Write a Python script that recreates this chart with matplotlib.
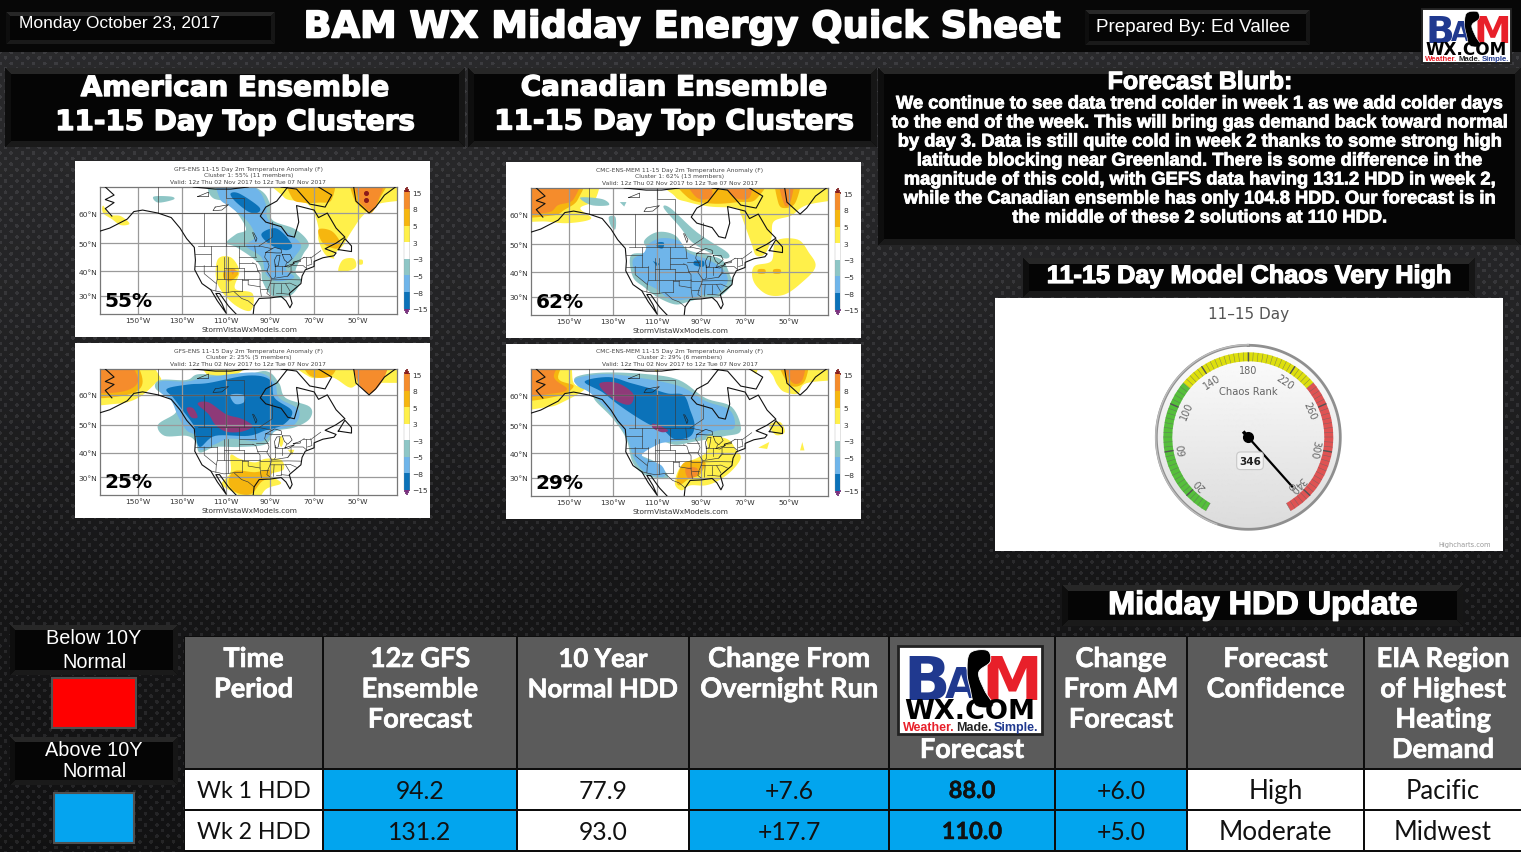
import numpy as np
import matplotlib
matplotlib.use("Agg")
import matplotlib.pyplot as plt
import matplotlib.patheffects as pe
from matplotlib.patches import Rectangle, Polygon, FancyBboxPatch
from matplotlib.colors import ListedColormap, BoundaryNorm
from matplotlib.cm import ScalarMappable

W, H = 1521, 853

# ---------- text / table data ----------
date_text = "Monday October 23, 2017"
main_title = "BAM WX Midday Energy Quick Sheet"
prepared = "Prepared By: Ed Vallee"
am_head = ["American Ensemble", "11-15 Day Top Clusters"]
ca_head = ["Canadian Ensemble", "11-15 Day Top Clusters"]
blurb_title = "Forecast Blurb:"
blurb_lines = [
    "We continue to see data trend colder in week 1 as we add colder days",
    "to the end of the week. This will bring gas demand back toward normal",
    "by day 3. Data is still quite cold in week 2 thanks to some strong high",
    "latitude blocking near Greenland. There is some difference in the",
    "magnitude of this cold, with GEFS data having 131.2 HDD in week 2,",
    "while the Canadian ensemble has only 104.8 HDD. Our forecast is in",
    "the middle of these 2 solutions at 110 HDD.",
]
chaos_head = "11-15 Day Model Chaos Very High"
hdd_head = "Midday HDD Update"
legend_below = ["Below 10Y", "Normal"]
legend_above = ["Above 10Y", "Normal"]
table_headers = [
    ["Time", "Period"],
    ["12z GFS", "Ensemble", "Forecast"],
    ["10 Year", "Normal HDD"],
    ["Change From", "Overnight Run"],
    ["", "", "", "Forecast"],
    ["Change", "From AM", "Forecast"],
    ["Forecast", "Confidence"],
    ["EIA Region", "of Highest", "Heating", "Demand"],
]
row_wk1 = ["Wk 1 HDD", "94.2", "77.9", "+7.6", "88.0", "+6.0", "High", "Pacific"]
row_wk2 = ["Wk 2 HDD", "131.2", "93.0", "+17.7", "110.0", "+5.0", "Moderate", "Midwest"]
blue_columns = [1, 3, 4, 5]
bold_columns = [4]

# ---------- gauge data ----------
gauge_title = "11\u201315 Day"
gauge_label = "Chaos Rank"
gauge_value = 346
gauge_ticks = [20, 60, 100, 140, 180, 220, 260, 300, 340]
gauge_bands = [(0, 120, "#55BF3B"), (120, 240, "#DDDF0D"), (240, 360, "#DF5353")]

# ---------- map data (lon, lat) ----------
levels = [-15, -8, -5, -3, 3, 5, 8, 15]
map_colors = ["#0b72b9", "#6fb5ea", "#8ec6c6", "#ffffff", "#fff04a", "#f6b60f", "#f58c2c"]
col = {-4: "#8ec6c6", -6: "#6fb5ea", -10: "#0b72b9", -20: "#8e3a78",
       4: "#fff04a", 6: "#f6b60f", 10: "#f58c2c", 20: "#8b1a1a"}

map1 = [
 (4, [(-166,62.5),(-163,59.5),(-158,59),(-154,56.5),(-158,56),(-162,58),(-166,60)]),
 (4, [(-87,68.7),(-33,68.7),(-33,65.5),(-41,63),(-48,59),(-52,55),(-55,51.5),(-57,49),(-61,46),(-61,44.5),(-65,46),(-68,51),(-68,55),(-70,60),(-73,63),(-78,64),(-84,65.5)]),
 (6, [(-82,68.7),(-62,68.7),(-62,64.5),(-68,63.5),(-75,63.5),(-80,65)]),
 (6, [(-68,54.5),(-62,54),(-58,50),(-60,48),(-66,50)]),
 (6, [(-53,68.7),(-36,68.7),(-40,65),(-44,60),(-48,61.5),(-52,65)]),
 (10, [(-51,68.7),(-38,68.7),(-41,64),(-44,60.5),(-47,62),(-50,65)]),
 (4, [(-57,44),(-52,44.5),(-51,41.5),(-55,40),(-59,40)]),
 (4, [(-50,44),(-48,44),(-48,42.5),(-50,42.5)]),
 (4, [(-114,44),(-108,45),(-104,40),(-106,33),(-98,31),(-99,24),(-107,27),(-114,35)]),
 (6, [(-111,40),(-107,41),(-104.5,39),(-108,36),(-111,37)]),
 (10, [(-108,40.5),(-106,40.5),(-107,38.5)]),
 (-4, [(-118,68.7),(-96,68.3),(-90,63),(-89,57.7),(-78.5,54.6),(-72.5,50),(-75,46),(-78.5,40),(-76,36),(-81,30),(-89,30),(-93.5,36),(-95,42.5),(-105,48.4),(-110,50),(-105.5,53),(-101,55),(-108.5,63),(-116,65),(-118.5,68.5)]),
 (-4, [(-143,65.5),(-135,65.5),(-134,64.5),(-141,63.5)]),
 (-6, [(-114,68.7),(-97,68.5),(-92,63),(-91,58),(-83,54),(-76,49.5),(-79,45),(-83,41),(-79,37.5),(-87,36),(-92,39),(-94,45),(-101,49),(-97,52),(-100,57),(-108,62),(-113,65)]),
 (-10, [(-108,66.5),(-104,66.5),(-95,62),(-96,60),(-100,60.5),(-106,64)]),
 (-10, [(-94,53),(-88,55),(-83,52.5),(-80,49),(-83,47.5),(-90,49.5)]),
]
map1_spots = [(-46.5, 66.8), (-46.5, 64.3)]

map2 = [
 (4, [(-167.4,68.7),(-140,68.7),(-138,65),(-145,62),(-140,58.5),(-150,57),(-160,57.5),(-167.4,59)]),
 (6, [(-167.4,68.7),(-145,68.7),(-146,65),(-152,61.5),(-158,59.5),(-167.4,60)]),
 (10, [(-167.4,68.7),(-147,68.7),(-148,65),(-155,63),(-160,60.5),(-167.4,61)]),
 (4, [(-104,68.7),(-33,68.7),(-33,66),(-42,63),(-49,59.5),(-57,57.5),(-58,52),(-61,46.5),(-65,46),(-67,50),(-70,56),(-72,60),(-74,62),(-86,62.5),(-96,64),(-102,66)]),
 (6, [(-100,68.7),(-62,68.7),(-65,65),(-73,64),(-85,63.5),(-96,65.5)]),
 (10, [(-98,68.7),(-88,68.7),(-85,66),(-92,65.5)]),
 (10, [(-80,68.7),(-68,68.7),(-68,65.5),(-76,66)]),
 (6, [(-56,68.7),(-45,68.7),(-47,64),(-52,62),(-55,64)]),
 (10, [(-55,68.7),(-48,68.7),(-49,65),(-52,63)]),
 (4, [(-66,42),(-58,44),(-56,51),(-46,51.5),(-41,47),(-38,42),(-44,36),(-52,31),(-60,31),(-66,36)]),
 (6, [(-64,41),(-61,41),(-61,39.5),(-64,39.5)]),
 (6, [(-57,41),(-54,41),(-54,39.5),(-57,39.5)]),
 (-4, [(-122,46),(-114,47),(-116,51),(-110,54),(-102,53),(-96,48),(-86,46),(-80,44),(-77,39),(-76,35),(-82,30),(-88,30),(-96,28),(-102,27),(-110,30),(-116,34),(-121,38)]),
 (-4, [(-107,62),(-104,62),(-92,54),(-78,47),(-80,45),(-93,50),(-100,56)]),
 (-4, [(-145,65.5),(-135,65),(-132,63),(-140,63)]),
 (-4, [(-127,64),(-124,64),(-125,62.5)]),
 (-4, [(-132,59),(-129,59),(-129,55),(-131,56)]),
 (-6, [(-121,44.5),(-116,47),(-114,50),(-108,52),(-100,51),(-96,47),(-87,44.5),(-80,41),(-78,36),(-83,31),(-88,31),(-97,29),(-104,29),(-110,33),(-116,36),(-120,40)]),
 (-10, [(-110,50.5),(-107,50.5),(-107.5,48.5),(-110,49)]),
 (-10, [(-93,44),(-89,44),(-89,42),(-93,42.5)]),
 (-10, [(-112,44),(-109,43),(-110,42)]),
]
map2_spots = []

map3 = [
 (4, [(-167.4,68.7),(-150,68.7),(-140,66),(-142,64),(-150,59),(-160,57),(-167.4,58)]),
 (6, [(-167.4,68.7),(-155,68.7),(-148,64.5),(-155,60),(-167.4,60)]),
 (10, [(-167.4,68.7),(-158,68.7),(-150,65),(-158,61),(-167.4,62)]),
 (4, [(-120,68.7),(-100,68.7),(-105,67),(-118,66.5)]),
 (4, [(-78,68.7),(-33,68.7),(-33,65),(-42,64),(-50,63.5),(-54,62.5),(-62,66),(-72,66)]),
 (6, [(-75,68.7),(-60,68.7),(-62,66.5),(-72,66.5)]),
 (10, [(-52,68.7),(-37,68.7),(-38,66),(-44,60.5),(-48,62),(-51,66)]),
 (-4, [(-140,65),(-128,65),(-122,67),(-105,66),(-92,68),(-86,64),(-83,59),(-72,56),(-72,52),(-79,49),(-88,47.5),(-92,43),(-104,42),(-115,42),(-122,40),(-124,44),(-128,46),(-138,46),(-141,50),(-133,54),(-134,58),(-142,62)]),
 (-6, [(-140,64.5),(-128,64.5),(-118,66),(-96,67.5),(-88,64),(-86,59),(-77,55),(-79,50),(-88,47.8),(-94,44),(-108,45),(-115,43),(-122,41),(-124,46),(-128,48),(-132,53),(-135,58),(-140,61)]),
 (-10, [(-137,62),(-127,63.5),(-118,64),(-100,66.5),(-90,65),(-88,59),(-80,54.5),(-84,50),(-92,48),(-100,46),(-115,46),(-122,42),(-124,47),(-125,50),(-130,55),(-134,59)]),
 (-6, [(-108,60),(-102,60),(-102,57.5),(-106,57)]),
 (-20, [(-123,57),(-118,57.5),(-110,53.5),(-103,52),(-98,49.5),(-103,47.5),(-110,47.5),(-115,50),(-118,53.5)]),
 (-20, [(-128,55.5),(-125,55.5),(-123,52.5),(-126,52.5)]),
 (4, [(-108,39),(-104,37.5),(-97,36),(-92,37.5),(-85,37),(-84,33),(-90,31),(-85,27.5),(-92,25),(-98,22.7),(-105,23),(-112,27),(-108,32)]),
 (6, [(-106,32.5),(-97,32),(-90,33),(-90,30),(-94,28),(-99,23),(-106,24),(-109,28)]),
 (4, [(-85,46),(-84,44),(-85,42),(-86,44)]),
 (4, [(-82,41),(-79,41),(-80,39)]),
]
map3_spots = []

map4 = [
 (4, [(-167.4,68.7),(-152,68.7),(-148,64),(-143,62),(-152,58),(-160,56),(-167.4,56.5)]),
 (6, [(-167.4,68.7),(-154,68.7),(-155,65.5),(-148,63),(-156,59.5),(-167.4,59)]),
 (10, [(-167.4,68.7),(-155,68.7),(-157,66),(-151,62),(-158,60.5),(-167.4,60)]),
 (4, [(-118,68.7),(-105,68.7),(-110,67.5)]),
 (4, [(-75,68.7),(-62,68.7),(-65,67)]),
 (4, [(-60,68.7),(-33,68.7),(-33,66),(-42,64),(-46,60.5),(-52,61),(-55,63),(-57,66)]),
 (6, [(-55,68.7),(-42,68.7),(-43,64.5),(-50,63.5)]),
 (10, [(-53,68.7),(-43,68.7),(-44,65),(-49,64.5)]),
 (4, [(-59,50),(-54,51),(-52,47.5),(-56,46.5)]),
 (4, [(-64,42),(-59,44),(-60,41.5)]),
 (4, [(-44,44),(-43,41),(-45,41)]),
 (-4, [(-147,66),(-135,67.5),(-115,67),(-100,65),(-88,59),(-76,56),(-72,48),(-80,46),(-94,44),(-102,43),(-112,45),(-118,40),(-110,36),(-105,30),(-115,31),(-121,36),(-124,45),(-130,52),(-138,58),(-140,61),(-146,63)]),
 (-6, [(-147,65.5),(-135,67),(-120,66),(-100,63),(-88,58),(-77,55),(-75,49),(-83,48),(-94,45),(-105,44),(-110,43),(-117,39),(-108,35),(-107,30.5),(-115,32),(-120,37),(-123.5,45),(-128,51),(-135,57),(-141,61),(-146,63)]),
 (-10, [(-143,64.5),(-132,66),(-122,64),(-112,62),(-105,60.5),(-98,60),(-95,55),(-93,50),(-95,46),(-102,45),(-107,48),(-113,50),(-120,53),(-128,57),(-135,61)]),
 (-20, [(-136,64),(-128,64),(-121,60.5),(-122,57),(-127,57.5),(-134,61)]),
 (-20, [(-112,50.5),(-108,49.5),(-105,48),(-108,47.5),(-112,49)]),
 (4, [(-87,46),(-78,45),(-74,41),(-72,38),(-76,33),(-82,29),(-88,27),(-95,27),(-99,25),(-102,28),(-99,35),(-92,38),(-88,40),(-87,42)]),
 (6, [(-98,36),(-92,37),(-88,36),(-91,31),(-95,30),(-100,27),(-101,30)]),
 (10, [(-97,34),(-92,34),(-92,31),(-96,30)]),
]
map4_spots = []

coast_lines = [
 [(-167.4,54),(-163,55),(-155,58),(-152,60.5),(-148,61),(-141,60),(-135,58.5),(-131,55),(-128,51.5),(-124.5,48.5),(-124,44),(-124.3,40.5),(-121,35),(-117,32.5),(-114,28),(-110,23),(-112,27),(-114.7,31),(-113,31),(-109,26),(-105.5,22.7)],
 [(-97.7,22.7),(-97.3,26),(-95,29),(-90,29.2),(-85,29.8),(-82.8,28),(-81,25.2),(-80,27),(-81.3,31),(-76,35),(-75.5,38),(-74,40.5),(-70,41.7),(-70,43.5),(-66,44.8),(-61,45.5),(-60,46.5),(-65,48),(-60,50),(-56,52),(-60,55),(-64,60),(-68,58.5),(-70,61),(-78,62.5),(-77,57),(-79,52),(-82,52.5),(-85,55.5),(-92,57),(-94.5,59),(-92,62),(-87,64),(-82,68.7)],
 [(-165,68.7),(-161,66),(-165,64.5),(-161,63.5),(-165,61.5),(-162,59)],
 [(-52,68.7),(-51,64),(-45,60),(-42,62),(-38,66),(-33,68.7)],
 [(-59,47.7),(-53,47),(-53,49),(-56,51.5),(-59,47.7)],
 [(-85,68.7),(-78,68),(-72,63),(-65,62),(-62,66),(-68,68.7)],
 [(-125,68.7),(-115,68),(-108,68),(-100,68.7)],
]
lake_lines = [
 [(-92,46.7),(-88,48.5),(-85,47.8),(-84.8,46.5),(-87,46.5),(-92,46.7)],
 [(-87.7,41.7),(-86.3,42),(-85.5,45.7),(-87,45.6),(-88,44),(-87.7,41.7)],
 [(-84.5,46),(-81,46),(-80,44.5),(-82,43),(-83.5,44),(-84.5,46)],
 [(-83.3,41.7),(-79,42.8),(-79.5,42.5),(-81.5,41.5),(-83.3,41.7)],
 [(-79.5,43.2),(-76.3,44),(-76.3,43.4),(-79.5,43.2)],
 [(-98,53.5),(-96.5,50.5),(-96,51.5),(-97.5,53.5)],
 [(-115,62),(-109,62.8),(-112,61),(-116,60.8),(-115,62)],
 [(-123,65.5),(-118,67),(-118,65.5),(-123,65.5)],
]
border_lines = [
 [(-141,60),(-141,68.7)],[(-123,49),(-95,49)],[(-120,60),(-120,49)],[(-110,60),(-110,49)],
 [(-102,60),(-102,49)],[(-95,49),(-89,52),(-89,57)],[(-141,60),(-94.5,60)],[(-102,60),(-102,65),(-110,65),(-110,68.7)],
 [(-124,46),(-117,46)],[(-124,42),(-114,42)],[(-120,42),(-120,39),(-114.5,35)],[(-117,49),(-117,42)],
 [(-114,42),(-114,37),(-114.5,35),(-114.7,32)],[(-111,45),(-111,37)],[(-114,37),(-94.6,37)],[(-109,45),(-109,31.5)],
 [(-104,49),(-104,41)],[(-104,45),(-96.5,45)],[(-104,43),(-98,43)],[(-111,41),(-102,41)],[(-102,41),(-102,37)],
 [(-103,37),(-103,32)],[(-117,32.5),(-114.7,32),(-111,31.3),(-109,31.5),(-106.5,31.8),(-103,29),(-100,28),(-97.3,26)],[(-103,32),(-106.5,32)],
 [(-100,36.5),(-100,34.5),(-94.5,33.7)],[(-103,36.5),(-100,36.5)],[(-94.6,37),(-94.6,33.5),(-94,29.8)],
 [(-98,43),(-96.5,42.5),(-95.5,40),(-94.6,39),(-94.6,37)],[(-102,40),(-95.5,40)],[(-96.5,45),(-97,49)],
 [(-96.5,43.5),(-91.2,43.5)],[(-95.8,40.6),(-91.5,40.6)],
 [(-92,46.7),(-92.5,45),(-91.2,43.5),(-90.5,42),(-91.5,40),(-90,38),(-89.2,37),(-90,35),(-91,33),(-91.5,31),(-90,30)],
 [(-94,33),(-91,33)],[(-94.5,36.5),(-90,36.5)],[(-90,35),(-84,35),(-81,35.2),(-78,34)],[(-88.2,35),(-88.5,30.3)],
 [(-85,35),(-85,31),(-87.5,31)],[(-85,31),(-81.5,30.7)],[(-83,35),(-81,32)],[(-87.5,42.5),(-87.5,38),(-88,37.5)],
 [(-84.8,41.8),(-84.8,39)],[(-87.5,41.7),(-83.3,41.7)],[(-80.5,42),(-80.5,40),(-82,38)],[(-89.2,37),(-82,38),(-80,40)],
 [(-89,36.5),(-82,36.6),(-76,36.5)],[(-80.5,39.7),(-75.5,39.7)],[(-79.8,42),(-75,42),(-73.5,41)],[(-73.5,45),(-73.5,41)],
 [(-71.5,45),(-71,42.5),(-73,42)],[(-67,47.3),(-71,45)],[(-75,45),(-71.5,45)],
 [(-95,49),(-89,48)],[(-82.5,43),(-83,42)],[(-76.5,44),(-74.5,45)],
]

map_lon_ticks = [-150, -130, -110, -90, -70, -50]
map_lat_ticks = [30, 40, 50, 60]

panels = [
 (["GFS-ENS 11-15 Day 2m Temperature Anomaly (F)", "Cluster 1: 55% (11 members)",
   "Valid: 12z Thu 02 Nov 2017 to 12z Tue 07 Nov 2017"], "55%", map1, map1_spots),
 (["CMC-ENS-MEM 11-15 Day 2m Temperature Anomaly (F)", "Cluster 1: 62% (13 members)",
   "Valid: 12z Thu 02 Nov 2017 to 12z Tue 07 Nov 2017"], "62%", map2, map2_spots),
 (["GFS-ENS 11-15 Day 2m Temperature Anomaly (F)", "Cluster 2: 25% (5 members)",
   "Valid: 12z Thu 02 Nov 2017 to 12z Tue 07 Nov 2017"], "25%", map3, map3_spots),
 (["CMC-ENS-MEM 11-15 Day 2m Temperature Anomaly (F)", "Cluster 2: 29% (6 members)",
   "Valid: 12z Thu 02 Nov 2017 to 12z Tue 07 Nov 2017"], "29%", map4, map4_spots),
]

# ---------- layout ----------
panel_boxes = [(75, 161, 430, 337), (506, 162, 861, 338), (75, 343, 430, 518), (506, 344, 861, 519)]
map_boxes = [(100, 187, 397, 314), (531, 188, 828, 315), (100, 369, 397, 495), (531, 369, 828, 496)]
YS = 1  # whole-page vertical nudge, px

fig = plt.figure(figsize=(W / 100, H / 100), dpi=100)


def px_axes(x0, y0, x1, y1, **kw):
    return fig.add_axes([x0 / W, 1 - (y1 + YS) / H, (x1 - x0) / W, (y1 - y0) / H], **kw)


bg = fig.add_axes([0, 0, 1, 1])
bg.axis("off")

# dotted carbon background texture
yy, xx = np.mgrid[0:H, 0:W] + 0.5
row = np.floor(yy / 5.6)
dx = ((xx - (row % 2) * 5.6) % 11.2) - 5.6
dy = (yy % 5.6) - 2.8
dots = np.hypot(dx, dy) < 1.9
base = np.interp(yy, [55, 300, 600, 853], [0.165, 0.14, 0.085, 0.07])
lum = base + dots * 0.075
tex = np.dstack([lum, lum, lum * 1.05])
bg.imshow(np.clip(tex, 0, 1), extent=[0, W, H - YS, -YS], interpolation="nearest", aspect="auto", zorder=0)
bg.set_xlim(0, W)
bg.set_ylim(H - YS, -YS)

bg.add_patch(Rectangle((0, -YS), W, 52 + YS, fc="#070707", ec="none", zorder=1))


def banner(x0, y0, x1, y1, b=6, z=2):
    bg.add_patch(Rectangle((x0, y0), x1 - x0, y1 - y0, fc="#050505", ec="none", zorder=z))
    bg.add_patch(Polygon([(x0, y0), (x1, y0), (x1 - b, y0 + b), (x0 + b, y0 + b)], fc="#272727", ec="none", zorder=z))
    bg.add_patch(Polygon([(x0, y1), (x1, y1), (x1 - b, y1 - b), (x0 + b, y1 - b)], fc="#1a1a1a", ec="none", zorder=z))
    bg.add_patch(Polygon([(x0, y0), (x0, y1), (x0 + b, y1 - b), (x0 + b, y0 + b)], fc="#0e0e0e", ec="none", zorder=z))
    bg.add_patch(Polygon([(x1, y0), (x1, y1), (x1 - b, y1 - b), (x1 - b, y0 + b)], fc="#161616", ec="none", zorder=z))


def txt(x, y, s, size, family="Liberation Sans", weight="normal", color="white", stroke=0.0, ha="center", **kw):
    t = bg.text(x, y + 1, s, fontsize=size, family=family, weight=weight, color=color, ha=ha, va="center", zorder=6, **kw)
    if stroke:
        t.set_path_effects([pe.withStroke(linewidth=stroke, foreground=color)])
    return t


# headline band
banner(6, 12, 275, 44, b=4)
banner(1085, 10, 1310, 45, b=4)
txt(19, 21, date_text, 12.5, ha="left")
txt(682, 26, main_title, 26.5, family="DejaVu Sans", weight="bold", stroke=1.2)
txt(1096, 25, prepared, 13.6, ha="left")

# section banners
banner(5, 68, 465, 147)
banner(468, 68, 877, 147)
txt(235, 87, am_head[0], 20, family="DejaVu Sans", weight="bold", stroke=1.0)
txt(235, 121, am_head[1], 20, family="DejaVu Sans", weight="bold", stroke=1.0)
txt(674, 86.5, ca_head[0], 20, family="DejaVu Sans", weight="bold", stroke=1.0)
txt(674, 120.5, ca_head[1], 20, family="DejaVu Sans", weight="bold", stroke=1.0)

banner(878, 68, 1521, 245)
txt(1200, 81, blurb_title, 18, weight="bold", stroke=0.8)
for i, line in enumerate(blurb_lines):
    txt(1200, 103 + 19 * i, line, 13.2, weight="bold", stroke=0.6)

banner(1023, 258, 1475, 297)
txt(1249, 275, chaos_head, 18.2, weight="bold", stroke=0.9)
banner(1062, 585, 1463, 626)
txt(1263, 605, hdd_head, 23.3, weight="bold", stroke=1.0)

# map panels


def smooth_closed(pts, n=8):
    """Closed Catmull-Rom outline through the given vertices."""
    p = np.asarray(pts, float)
    if len(p) < 4:
        return p
    p0, p1, p2, p3 = np.roll(p, 1, axis=0), p, np.roll(p, -1, axis=0), np.roll(p, -2, axis=0)
    out = []
    for t in np.arange(n) / n:
        out.append(0.5 * (2 * p1 + (p2 - p0) * t + (2 * p0 - 5 * p1 + 4 * p2 - p3) * t ** 2
                          + (3 * p1 - p0 - 3 * p2 + p3) * t ** 3))
    return np.stack(out, axis=1).reshape(-1, 2)


def push_out(pts):
    """Vertices on the map frame are moved past it so fills reach the frame."""
    q = np.array(pts, float)
    q[q[:, 1] >= 68.6, 1] = 73
    q[q[:, 1] <= 22.8, 1] = 18
    q[q[:, 0] <= -167.3, 0] = -176
    q[q[:, 0] >= -33.1, 0] = -24
    return q


lat_keys = [10, 22.7, 30, 40, 50, 60, 68.7, 80]
pos_keys = [-95, 0, 54, 128, 212, 302, 380, 480]
lat_fwd = lambda v: np.interp(v, lat_keys, pos_keys)
lat_inv = lambda v: np.interp(v, pos_keys, lat_keys)

cmap = ListedColormap(map_colors)
cmap.set_under("#7b2d80")
cmap.set_over("#8b1a1a")
norm = BoundaryNorm(levels, cmap.N)

for (lines, pct, blobs, spots), pb, mb in zip(panels, panel_boxes, map_boxes):
    bg.add_patch(Rectangle((pb[0], pb[1]), pb[2] - pb[0], pb[3] - pb[1], fc="white", ec="none", zorder=3))
    cx = (mb[0] + mb[2]) / 2
    for k, s in enumerate(lines):
        bg.text(cx, mb[1] - 19 + 6.7 * k, s, fontsize=4.3, color="#444444", ha="center", va="center", zorder=6)
    bg.text(cx + 1, mb[3] + 15, "StormVistaWxModels.com", fontsize=5.3, color="#333333", ha="center", va="center", zorder=6)

    ax = px_axes(*mb)
    ax.set_yscale("function", functions=(lat_fwd, lat_inv))
    ax.set_xlim(-167.4, -32.3)
    ax.set_ylim(22.7, 68.7)
    for lev, poly in blobs:
        ax.add_patch(Polygon(smooth_closed(push_out(poly)), closed=True, fc=col[lev], ec="none", zorder=1))
    if spots:
        ax.plot(*zip(*spots), ls="none", marker="o", ms=2.6, color=col[20], zorder=1.5)
    for lon in map_lon_ticks:
        ax.axvline(lon, color="#9a9a9a", lw=0.9, zorder=2)
    for lat in map_lat_ticks:
        ax.axhline(lat, color="#9a9a9a", lw=0.9, zorder=2)
    for ln in border_lines:
        ax.plot(*zip(*ln), color="#3a3a3a", lw=0.45, zorder=3)
    for ln in lake_lines:
        ax.plot(*zip(*ln), color="#222222", lw=0.45, zorder=3.5)
    for ln in coast_lines:
        ax.plot(*zip(*ln), color="#111111", lw=0.8, zorder=4)
    ax.set_xticks(map_lon_ticks)
    ax.set_xticklabels([f"{-v}\u00b0W" for v in map_lon_ticks], fontsize=5.4, color="#333333")
    ax.set_yticks(map_lat_ticks)
    ax.set_yticklabels([f"{v}\u00b0N" for v in map_lat_ticks], fontsize=5.4, color="#333333")
    ax.minorticks_off()
    ax.tick_params(length=0, pad=2)
    for sp in ax.spines.values():
        sp.set_color("#777777")
        sp.set_linewidth(0.9)
    ax.text(0.016, 0.11, pct, transform=ax.transAxes, fontsize=14.5, weight="bold", family="DejaVu Sans",
            color="black", ha="left", va="center", zorder=6)

    cax = px_axes(mb[2] + 7, mb[1], mb[2] + 12.5, mb[3])
    cb = fig.colorbar(ScalarMappable(norm=norm, cmap=cmap), cax=cax, extend="both", extendfrac=0.046,
                      spacing="uniform", drawedges=False)
    cb.set_ticks(levels)
    cb.ax.tick_params(labelsize=5.4, length=0, pad=2, labelcolor="#333333")
    cb.ax.minorticks_off()
    cb.outline.set_linewidth(0.2)
    cb.outline.set_edgecolor("#999999")

# gauge panel
bg.add_patch(Rectangle((995, 298), 508, 253, fc="white", ec="none", zorder=3))
txt(1249, 312, gauge_title, 11, family="DejaVu Sans", color="#555555")
txt(1465, 543, "Highcharts.com", 4.8, family="DejaVu Sans", color="#999999")

gx, gy, RM = 1248.3, 437.3, 96
ga = px_axes(gx - RM, gy - RM, gx + RM, gy + RM, projection="polar")
ga.set_theta_zero_location("N")
ga.set_theta_direction(-1)
ga.set_ylim(0, RM)
ga.axis("off")
ga.patch.set_alpha(0)


def val2th(v):
    return np.radians((np.asarray(v, float) - 180) * 300 / 360)


tg = np.linspace(0, 2 * np.pi, 181)
rg = np.linspace(0, 91, 30)
T, R = np.meshgrid(tg, rg)
face = 0.99 - 0.13 * (1 - R * np.cos(T) / 91) / 2
ga.pcolormesh(T, R, face, cmap="gray", vmin=0, vmax=1, shading="gouraud", zorder=1)
ga.plot(tg, np.full_like(tg, 92), color="#8f8f8f", lw=2.0, zorder=2)
ga.plot(tg[100:], np.full_like(tg[100:], 92.5), color="#bdbdbd", lw=1.0, zorder=2)

for v0, v1, c in gauge_bands:
    ga.bar(float(val2th((v0 + v1) / 2)), 9, width=float(val2th(v1) - val2th(v0)), bottom=76, color=c, lw=0, zorder=3)
minor_vals = np.arange(0, 361, 4)
ga.vlines(val2th(minor_vals), 76, 85, color="#666666", lw=0.35, alpha=0.8, zorder=4)
major_vals = np.arange(20, 361, 40)
ga.vlines(val2th(major_vals), 76, 85, color="#555555", lw=1.0, zorder=4)
for v in gauge_ticks:
    th = float(val2th(v))
    ga.text(th, 67, str(v), fontsize=7, color="#666666", ha="center", va="center",
            rotation=-np.degrees(th), rotation_mode="anchor", zorder=5)
ga.text(0.5, 0.5 + (437.3 - 391) / (2 * RM), gauge_label, transform=ga.transAxes, fontsize=7.2,
        color="#666666", ha="center", va="center", zorder=5)
th_val = float(val2th(gauge_value))
ga.plot([th_val, th_val], [0, 67], color="black", lw=1.6, zorder=6, solid_capstyle="butt")
ga.plot([th_val + np.pi, th_val + np.pi], [0, 6], color="black", lw=2.5, zorder=6)
ga.plot([0], [0], marker="o", ms=7, color="black", zorder=7)
ga.plot([th_val], [66], marker="o", ms=4, mfc="none", mec="#555555", mew=0.5, zorder=7)
ga.add_patch(FancyBboxPatch((0.5 - 11 / (2 * RM) + 1.7 / (2 * RM), 0.5 - 30 / (2 * RM)), 22 / (2 * RM), 13 / (2 * RM),
                            boxstyle="round,pad=0.012,rounding_size=0.02", transform=ga.transAxes,
                            fc="#f3f3f3", ec="#c8c8c8", lw=0.8, zorder=6))
ga.text(0.5 + 1.7 / (2 * RM), 0.5 - 24 / (2 * RM), str(gauge_value), transform=ga.transAxes, fontsize=7.5,
        weight="bold", color="#222222", ha="center", va="center", zorder=7)

# legend
banner(10, 625, 178, 675, b=5)
txt(94, 637, legend_below[0], 14.3)
txt(94, 660, legend_below[1], 14.3)
bg.add_patch(Rectangle((52, 678), 84, 50, fc="#ff0000", ec="#505050", lw=1.5, zorder=3))
banner(10, 737, 178, 785, b=5)
txt(94, 748, legend_above[0], 14.3)
txt(94, 770, legend_above[1], 14.3)
bg.add_patch(Rectangle((54, 793), 80, 50, fc="#05a4ef", ec="#505050", lw=1.5, zorder=3))

# table
col_edges = [185, 323, 517, 689, 889, 1055, 1187, 1364, 1521]
cell_sizes = [16.7, 17.8, 17.8, 17.8, 17.0, 17.8, 18.8, 18.4]
head_sizes = [19.5, 19.5, 18.5, 19.6, 19.5, 19.5, 19.5, 19.5]
bg.add_patch(Rectangle((184, 636), W - 184, 216, fc="#0d0d0d", ec="none", zorder=2))
TF = "Lato"
for c in range(8):
    x0, x1 = col_edges[c] + 1, col_edges[c + 1] - 1
    if c == 7:
        x1 = W
    if c == 0:
        x0 = 185
    xc = (x0 + x1) / 2
    bg.add_patch(Rectangle((x0, 637), x1 - x0, 131, fc="#5b5b5b", ec="none", zorder=3))
    for k, s in enumerate(table_headers[c]):
        if s:
            txt(xc, 658 + 30.3 * k, s, head_sizes[c], family=TF, weight="bold", stroke=0.5)
    for (y0, y1, row_vals) in [(770, 809, row_wk1), (811, 850, row_wk2)]:
        fc = "#02a5ee" if c in blue_columns else "white"
        bg.add_patch(Rectangle((x0, y0), x1 - x0, y1 - y0, fc=fc, ec="none", zorder=3))
        txt(xc, (y0 + y1) / 2, row_vals[c], cell_sizes[c], family=TF, color="#111111",
            weight="bold" if c in bold_columns else "normal", stroke=0.3 if c in bold_columns else 0.0)


# logos
def seq_text(x, y, parts, size, z=8):
    rend = fig.canvas.get_renderer()
    cur = x
    for s, c in parts:
        t = bg.text(cur, y, s, fontsize=size, family="Liberation Sans", weight="bold", color=c, ha="left", va="center", zorder=z)
        cur = bg.transData.inverted().transform(t.get_window_extent(rend).get_points())[1][0] + size * 0.2


def logo(x0, y0, w, h):
    s = w / 144.0
    bg.add_patch(Rectangle((x0, y0), w, h, fc="white", ec="#222222", lw=1.6 * s + 0.4, zorder=6))
    blue, red = "#20398f", "#e8202a"
    bg.text(x0 + w * 0.20, y0 + h * 0.42, "B", fontsize=44 * s, weight="bold", family="DejaVu Sans", color=blue, ha="center", va="center", zorder=7)
    bg.text(x0 + w * 0.44, y0 + h * 0.44, "A", fontsize=30 * s, weight="bold", family="DejaVu Sans", color=blue, ha="center", va="center", zorder=7)
    bg.text(x0 + w * 0.79, y0 + h * 0.42, "M", fontsize=44 * s, weight="bold", family="DejaVu Sans", color=red, ha="center", va="center", zorder=7)
    swirl = [(0.50, 0.08), (0.62, 0.05), (0.64, 0.18), (0.56, 0.30), (0.60, 0.50), (0.66, 0.68), (0.54, 0.68), (0.50, 0.48), (0.48, 0.30)]
    bg.add_patch(Polygon([(x0 + a * w, y0 + b * h) for a, b in smooth_closed(swirl)], fc="black", ec="white", lw=0.6 * s, zorder=7.5))
    bg.text(x0 + w * 0.5, y0 + h * 0.74, "WX.COM", fontsize=19.5 * s, weight="bold", family="DejaVu Sans", color="black", ha="center", va="center", zorder=8)
    seq_text(x0 + w * 0.035, y0 + h * 0.915, [("Weather.", red), ("Made.", "#222222"), ("Simple.", blue)], 9.0 * s)


logo(1422, 9, 89, 54)
logo(898, 646, 144, 88)

fig.savefig("out.png", dpi=100, facecolor="black")
